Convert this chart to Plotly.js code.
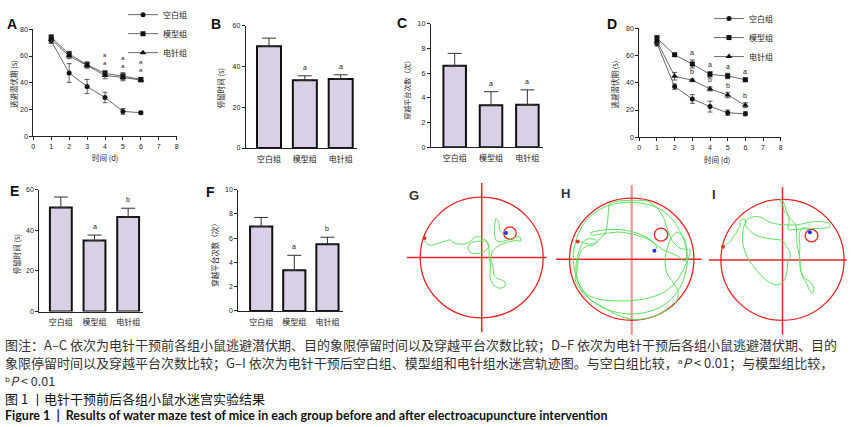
<!DOCTYPE html>
<html><head><meta charset="utf-8">
<script src="https://cdn.plot.ly/plotly-3.0.1.min.js"></script>
<style>html,body{margin:0;padding:0;background:#fff;}#chart{width:857px;height:427px;}</style>
</head><body><div id="chart"></div>
<script>
// ---------------- DATA ----------------
const days = [1, 2, 3, 4, 5, 6];
const groups = ['空白组', '模型组', '电针组'];

// A: escape latency before electroacupuncture (s)
const preBlank = [71.4, 47.3, 37.2, 29.0, 18.6, 17.6];
const preBlankErr = [2.0, 7.0, 5.3, 3.9, 2.2, 1.0];
const preModel = [74.0, 61.5, 53.5, 47.0, 45.0, 42.5];
const preModelErr = [1.8, 2.0, 2.2, 2.2, 2.5, 1.5];
const preEA = [72.5, 60.0, 53.0, 45.5, 44.0, 42.0];
const preEAErr = [2.0, 2.0, 2.0, 2.5, 2.5, 1.5];
const preSigModel = ['', '', '', 'a', 'a', 'a'];
const preSigEA = ['', '', '', 'a', 'a', 'a'];

// B: target quadrant time before (s)
const preTime = [50.0, 33.3, 33.9];
const preTimeErr = [4.0, 2.2, 2.1];
const preTimeSig = ['', 'a', 'a'];

// C: platform crossings before
const preCross = [6.6, 3.4, 3.45];
const preCrossErr = [1.0, 1.1, 1.2];
const preCrossSig = ['', 'a', 'a'];

// D: escape latency after electroacupuncture (s)
const postBlank = [68.9, 37.2, 28.1, 22.5, 18.0, 17.2];
const postBlankErr = [2.0, 2.0, 3.2, 4.0, 2.0, 1.5];
const postModel = [72.8, 60.5, 53.8, 46.2, 45.0, 42.2];
const postModelErr = [2.0, 1.0, 3.0, 2.0, 2.0, 1.0];
const postEA = [70.5, 44.8, 41.8, 35.5, 31.0, 23.5];
const postEAErr = [2.0, 2.8, 1.0, 1.5, 2.0, 1.8];
const postSigModel = ['', '', 'a', 'a', 'a', 'a'];
const postSigEA = ['', '', 'b', 'b', 'b', 'b'];

// E: target quadrant time after (s)
const postTime = [51.1, 34.9, 46.5];
const postTimeErr = [5.2, 2.7, 4.3];
const postTimeSig = ['', 'a', 'b'];

// F: platform crossings after
const postCross = [6.95, 3.35, 5.5];
const postCrossErr = [0.75, 1.23, 0.57];
const postCrossSig = ['', 'a', 'b'];

// G-I: swim tracks (tracker camera units, y downward)
const mazeLabels = ['G', 'H', 'I'];
const poolCX = [245, 695, 246];
const poolCY = [238, 258, 244];
const poolR = [185, 186.5, 184.5];
const platX = [330, 783, 333];
const platY = [163, 183, 170];
const platR = [19, 20, 19];

const trackGX = [73,76,90,110,135,150,158,170,195,212,220,235,248,262,266,252,230,210,204,212,235,258,266,268,272,270,278,298,316,312,292,282,278,272,280,300,320,345,362,360,340,318,300,288,283,288,296,300,310,318];
const trackGY = [178,192,200,196,188,184,190,196,196,188,178,174,180,190,205,220,226,222,208,194,188,190,205,240,262,295,320,332,325,310,302,290,262,240,215,200,192,186,187,175,178,186,190,185,160,118,128,155,163,163];

const trackHX = [533,548,565,580,592,585,565,550,540,530,528,540,560,590,630,680,730,780,815,842,858,862,855,838,815,785,748,705,660,620,585,558,540,528,520,522,535,560,595,640,690,740,790,825,850,868,870,840,815,800,790,770,740,700,660,628,625,622,615,600,580,560,545,535,530,525,545,575,610,655,700,745,790,825,835,820,800,795,800,810,830,850,860,855,835,815,790,770,740,700,660,625,600,580,570,590,620,665,710,750,770,763];
const trackHY = [204,206,212,210,205,198,196,205,225,260,300,340,370,395,415,425,422,405,378,340,295,250,210,170,135,108,92,85,86,96,115,140,170,200,240,285,330,365,380,385,385,378,360,330,290,245,230,225,200,160,130,100,80,78,80,88,115,150,180,195,215,218,230,260,300,320,355,385,405,430,442,438,420,395,360,330,300,260,230,200,175,190,230,265,250,240,230,215,195,182,175,178,182,185,178,172,168,168,178,198,220,232];

const trackIX = [68,78,90,96,100,108,112,120,118,125,135,133,128,126,128,140,160,185,210,235,252,260,262,270,266,255,248,230,200,170,145,135,140,160,185,205,232,260,292,322,352,386,388,360,330,305,296,298,297,300,306,318,326,336,340,330,312,300,298,290,288,285,270,262,252,246,238,242,250,258,264,266,262,270,300,320,328];
const trackIY = [204,196,188,178,170,162,150,140,128,120,122,135,150,175,200,235,265,295,315,320,305,275,250,232,215,200,185,182,178,170,152,135,122,112,115,128,135,137,137,130,127,133,143,148,148,147,165,200,235,270,295,315,335,346,332,312,300,275,240,200,160,135,120,108,98,75,62,58,70,95,112,128,150,152,150,150,160];

// ---------------- LAYOUT HELPERS ----------------
const W = 857, H = 427;
const px = v => v / W;
const py = v => 1 - v / H;
const xdom = (a, b) => [px(a), px(b)];
const ydom = (top, bottom) => [py(bottom), py(top)];

const numFamily = 'Liberation Sans, Arial, Noto Sans CJK SC, sans-serif';
const cjkFamily = 'Noto Sans CJK SC, DejaVu Sans, sans-serif';
const tickFont = {family: numFamily, size: 7, color: '#222'};
const catFont = {family: cjkFamily, size: 8, color: '#222'};

function numAxis(dom, range, dtick, anchor) {
  return {domain: dom, range: range, dtick: dtick, tick0: 0, anchor: anchor,
    showline: true, linecolor: '#222', linewidth: 1, ticks: 'outside', ticklen: 3,
    tickwidth: 1, tickcolor: '#222', showgrid: false, zeroline: false, tickfont: tickFont};
}
function catAxis(dom, range, anchor) {
  return {domain: dom, range: range, anchor: anchor, tickmode: 'array',
    tickvals: groups.map((g, i) => i), ticktext: groups,
    showline: true, linecolor: '#222', linewidth: 1, ticks: 'outside', ticklen: 3,
    tickcolor: 'rgba(0,0,0,0)', showgrid: false, zeroline: false, tickfont: catFont};
}

const traces = [];
const annotations = [];
const shapes = [];

function lineTrace(y, err, name, symbol, xa, ya, leg) {
  return {type: 'scatter', mode: 'lines+markers', x: days, y: y, name: name,
    xaxis: xa, yaxis: ya, legend: leg,
    line: {color: '#444', width: 0.8},
    marker: {symbol: symbol, size: symbol === 'triangle-up' ? 6 : 5, color: '#111'},
    error_y: {type: 'data', array: err, color: '#333', thickness: 0.8, width: 2.5}};
}
function barTrace(y, err, xa, ya, w) {
  return {type: 'bar', x: groups.map((g, i) => i), y: y, width: w, xaxis: xa, yaxis: ya,
    showlegend: false,
    marker: {color: '#d9cfe6', line: {color: '#111', width: 2}},
    error_y: {type: 'data', symmetric: false, array: err, arrayminus: err.map(() => 0),
      color: '#333', thickness: 1, width: 7}};
}
function sigLabel(xa, ya, x, y, text, shift, size) {
  return {xref: xa, yref: ya, x: x, y: y, text: text, showarrow: false, yshift: shift,
    xanchor: 'center', yanchor: 'middle', borderpad: 0,
    font: {family: numFamily, size: size || 7, color: '#222'}};
}
function paperText(x, y, text, size, opts) {
  return Object.assign({xref: 'paper', yref: 'paper', x: px(x), y: py(y), text: text,
    showarrow: false, xanchor: 'center', yanchor: 'middle', borderpad: 0,
    font: {family: cjkFamily, size: size, color: '#222'}}, opts || {});
}

// A
traces.push(lineTrace(preBlank, preBlankErr, groups[0], 'circle', 'x', 'y', 'legend'));
traces.push(lineTrace(preModel, preModelErr, groups[1], 'square', 'x', 'y', 'legend'));
traces.push(lineTrace(preEA, preEAErr, groups[2], 'triangle-up', 'x', 'y', 'legend'));
days.forEach((d, i) => {
  if (preSigModel[i] || preSigEA[i]) {
    const top = Math.max(preModel[i] + preModelErr[i], preEA[i] + preEAErr[i]);
    annotations.push(sigLabel('x', 'y', d, top, [preSigModel[i], preSigEA[i]].join('<br>'), 11, 6));
  }
});
// B
traces.push(barTrace(preTime, preTimeErr, 'x2', 'y2', 0.67));
preTimeSig.forEach((s, i) => { if (s) annotations.push(sigLabel('x2', 'y2', i, preTime[i] + preTimeErr[i], s, 8.7)); });
// C
traces.push(barTrace(preCross, preCrossErr, 'x3', 'y3', 0.62));
preCrossSig.forEach((s, i) => { if (s) annotations.push(sigLabel('x3', 'y3', i, preCross[i] + preCrossErr[i], s, 8.7)); });
// D
traces.push(lineTrace(postBlank, postBlankErr, groups[0], 'circle', 'x4', 'y4', 'legend2'));
traces.push(lineTrace(postModel, postModelErr, groups[1], 'square', 'x4', 'y4', 'legend2'));
traces.push(lineTrace(postEA, postEAErr, groups[2], 'triangle-up', 'x4', 'y4', 'legend2'));
days.forEach((d, i) => {
  if (postSigModel[i]) annotations.push(sigLabel('x4', 'y4', d, postModel[i] + postModelErr[i], postSigModel[i], 7));
  if (postSigEA[i]) annotations.push(sigLabel('x4', 'y4', d, postEA[i] + postEAErr[i], postSigEA[i], 7));
});
// E
traces.push(barTrace(postTime, postTimeErr, 'x5', 'y5', 0.65));
postTimeSig.forEach((s, i) => { if (s) annotations.push(sigLabel('x5', 'y5', i, postTime[i] + postTimeErr[i], s, 8.7)); });
// F
traces.push(barTrace(postCross, postCrossErr, 'x6', 'y6', 0.67));
postCrossSig.forEach((s, i) => { if (s) annotations.push(sigLabel('x6', 'y6', i, postCross[i] + postCrossErr[i], s, 8.7)); });

// Maze panels
const trackX = [trackGX, trackHX, trackIX];
const trackY = [trackGY, trackHY, trackIY];
const mazeCenterPx = [[481.7, 254.3], [631.7, 256.0], [782.5, 256.7]];
const mazeRadiusPx = [61.5, 62.2, 61.6];
const hLeft = [-1.215, -1.217, -1.2], hRight = [1.057, 1.125, 1.04];
const vTop = [-1.236, -1.215, -1.2], vBottom = [1.24, 1.24, 1.24];
const mazeAxes = {};
mazeLabels.forEach((lab, k) => {
  const n = 7 + k;
  const xa = 'x' + n, ya = 'y' + n;
  const cx = poolCX[k], cy = poolCY[k], r = poolR[k];
  const [cxp, cyp] = mazeCenterPx[k];
  const rp = mazeRadiusPx[k];
  const L = 1.25, Rr = 1.15, V = 1.27;
  const hidden = {showgrid: false, zeroline: false, showline: false, showticklabels: false, ticks: ''};
  mazeAxes['xaxis' + n] = Object.assign({domain: xdom(cxp - L * rp, cxp + Rr * rp), range: [cx - L * r, cx + Rr * r], anchor: ya}, hidden);
  mazeAxes['yaxis' + n] = Object.assign({domain: ydom(cyp - V * rp, cyp + V * rp), range: [cy + V * r, cy - V * r], anchor: xa}, hidden);
  const red = '#ee2222';
  const vColor = k === 1 ? 'rgba(235,60,60,0.55)' : red;
  shapes.push({type: 'line', xref: xa, yref: ya, x0: cx + hLeft[k] * r, x1: cx + hRight[k] * r, y0: cy, y1: cy, line: {color: red, width: 1.5}, layer: 'below'});
  shapes.push({type: 'line', xref: xa, yref: ya, x0: cx, x1: cx, y0: cy + vTop[k] * r, y1: cy + vBottom[k] * r, line: {color: vColor, width: k === 1 ? 2.2 : 1.5}, layer: 'below'});
  shapes.push({type: 'circle', xref: xa, yref: ya, x0: cx - r, x1: cx + r, y0: cy - r, y1: cy + r, line: {color: red, width: 1.3}, layer: 'below'});
  shapes.push({type: 'circle', xref: xa, yref: ya, x0: platX[k] - platR[k], x1: platX[k] + platR[k], y0: platY[k] - platR[k], y1: platY[k] + platR[k], line: {color: red, width: 1.3}, layer: 'below'});
  const tx = trackX[k], ty = trackY[k];
  traces.push({type: 'scatter', mode: 'lines', x: tx, y: ty, xaxis: xa, yaxis: ya, showlegend: false,
    line: {color: '#5ae05a', width: 1, shape: 'spline', smoothing: 0.8}});
  traces.push({type: 'scatter', mode: 'markers', x: [tx[0]], y: [ty[0]], xaxis: xa, yaxis: ya, showlegend: false,
    marker: {color: '#d23a2a', size: 4}});
  traces.push({type: 'scatter', mode: 'markers', x: [tx[tx.length - 1]], y: [ty[ty.length - 1]], xaxis: xa, yaxis: ya, showlegend: false,
    marker: {color: '#2030f0', size: 4}});
});

// Panel letters
const letterFont = {family: 'Liberation Sans, Arial, sans-serif', size: 14, color: '#111', weight: 'bold'};
[['A', 12, 16], ['B', 215.7, 16], ['C', 401.7, 15], ['D', 611.7, 16], ['E', 14, 186.7], ['F', 210, 187.3]].forEach(([t, x, y]) => {
  annotations.push({xref: 'paper', yref: 'paper', x: px(x), y: py(y), text: t, showarrow: false,
    xanchor: 'center', yanchor: 'middle', font: letterFont});
});
[['G', 414, 191], ['H', 565, 189.3], ['I', 714, 190]].forEach(([t, x, y]) => {
  annotations.push({xref: 'paper', yref: 'paper', x: px(x), y: py(y), text: t, showarrow: false,
    xanchor: 'center', yanchor: 'middle',
    font: {family: 'Liberation Sans, Arial, sans-serif', size: 13, color: '#333', weight: 'bold'}});
});

// Axis titles
const yT = {textangle: -90};
annotations.push(paperText(13, 77.5, '逃避潜伏期 (s)', 7.5, yT));
annotations.push(paperText(105, 152, '时间 (d)', 7.5));
annotations.push(paperText(220, 81.7, '停留时间 (s)', 7.5, yT));
annotations.push(paperText(406.7, 81.7, '穿越平台次数（次）', 7, yT));
annotations.push(paperText(615, 78, '逃避潜伏期 (s)', 7.5, yT));
annotations.push(paperText(716.7, 154, '时间 (d)', 7.5));
annotations.push(paperText(16, 251, '停留时间 (s)', 7.5, yT));
annotations.push(paperText(214.3, 249, '穿越平台次数（次）', 7.5, yT));

// Caption
const capOpts = {xanchor: 'left'};
const capFont = {family: cjkFamily, size: 13, color: '#333'};
annotations.push(Object.assign(paperText(4, 342.7, '图注：A–C 依次为电针干预前各组小鼠逃避潜伏期、目的象限停留时间以及穿越平台次数比较；D–F 依次为电针干预后各组小鼠逃避潜伏期、目的', 13, capOpts), {font: capFont}));
annotations.push(Object.assign(paperText(4, 361.5, '象限停留时间以及穿越平台次数比较；G–I 依次为电针干预后空白组、模型组和电针组水迷宫轨迹图。与空白组比较，ᵃ<i>P</i> &lt; 0.01；与模型组比较，', 13, capOpts), {font: capFont}));
annotations.push(Object.assign(paperText(4, 379.8, 'ᵇ<i>P</i> &lt; 0.01', 12.5, capOpts), {font: {family: cjkFamily, size: 12.5, color: '#333'}}));
annotations.push(Object.assign(paperText(4, 398.3, '图 1 丨电针干预前后各组小鼠水迷宫实验结果', 13, capOpts), {font: {family: cjkFamily, size: 13, color: '#111'}}));
annotations.push(Object.assign(paperText(4, 415, '<b>Figure 1  |  Results of water maze test of mice in each group before and after electroacupuncture intervention</b>', 12.5, capOpts), {font: {family: 'Lato, Roboto, sans-serif', size: 12.5, color: '#111'}}));

const layout = Object.assign({
  width: W, height: H, margin: {l: 0, r: 0, t: 0, b: 0},
  paper_bgcolor: '#fff', plot_bgcolor: 'rgba(0,0,0,0)',
  showlegend: true,
  xaxis: numAxis(xdom(33.3, 176.7), [0, 8], 1, 'y'),
  yaxis: numAxis(ydom(21.7, 130.7), [0, 80], 20, 'x'),
  xaxis2: catAxis(xdom(245.7, 357), [-0.65, 2.455], 'y2'),
  yaxis2: numAxis(ydom(18.3, 142.7), [0, 60], 20, 'x2'),
  xaxis3: catAxis(xdom(430.7, 543), [-0.66, 2.43], 'y3'),
  yaxis3: numAxis(ydom(16, 142), [0, 10], 2, 'x3'),
  xaxis4: numAxis(xdom(639.3, 780.7), [0, 8], 1, 'y4'),
  yaxis4: numAxis(ydom(20.7, 131.7), [0, 80], 20, 'x4'),
  xaxis5: catAxis(xdom(39.3, 143.3), [-0.64, 2.45], 'y5'),
  yaxis5: numAxis(ydom(185, 309.3), [0, 60], 20, 'x5'),
  xaxis6: catAxis(xdom(238.3, 343), [-0.69, 2.47], 'y6'),
  yaxis6: numAxis(ydom(185, 308.7), [0, 10], 2, 'x6'),
  legend: {x: px(123), y: py(-8), xanchor: 'left', yanchor: 'top', bgcolor: 'rgba(0,0,0,0)',
    font: {family: cjkFamily, size: 8, color: '#222'}, itemwidth: 30, tracegroupgap: 0},
  legend2: {x: px(709), y: py(-4), xanchor: 'left', yanchor: 'top', bgcolor: 'rgba(0,0,0,0)',
    font: {family: cjkFamily, size: 8, color: '#222'}, itemwidth: 30, tracegroupgap: 0},
  annotations: annotations,
  shapes: shapes,
  bargap: 0
}, mazeAxes);

Plotly.newPlot('chart', traces, layout, {staticPlot: true, displayModeBar: false});
</script>
</body></html>
